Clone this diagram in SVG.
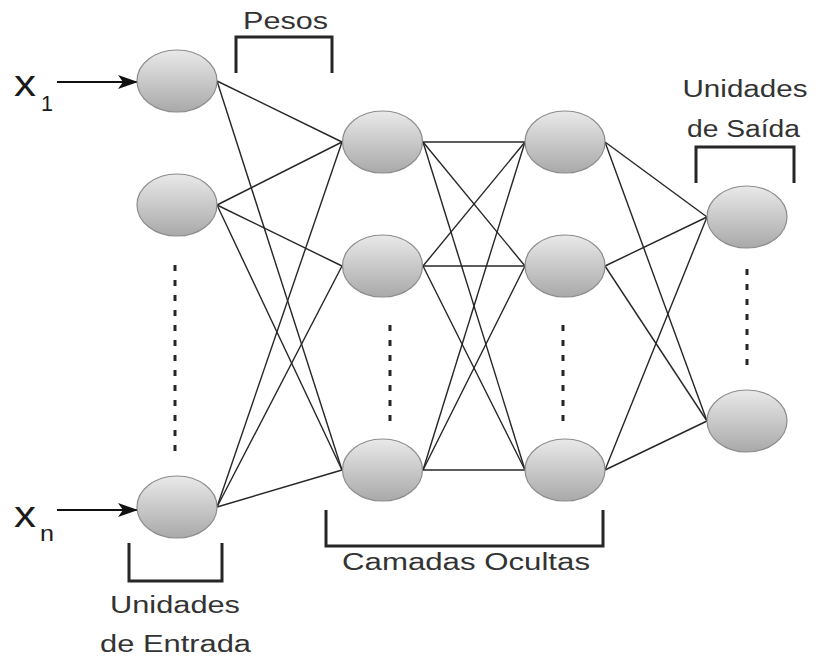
<svg xmlns="http://www.w3.org/2000/svg" width="816" height="659" viewBox="0 0 816 659">
  <style>
    .node { fill: url(#nodeFill); stroke: #8c8c8c; stroke-width: 1.2; }
    .edge { stroke: #262626; stroke-width: 1.4; fill: none; }
    .dots { stroke: #262626; stroke-width: 3; stroke-dasharray: 6 9; fill: none; }
    .bracket { stroke: #262626; stroke-width: 3; fill: none; }
    .input { stroke: #111; stroke-width: 2.2; fill: none; marker-end: url(#arrow); }
    .label { font-family: "Liberation Sans", Arial, sans-serif; font-size: 23px; fill: #333; text-anchor: middle; }
    .var { font-family: "Liberation Sans", Arial, sans-serif; fill: #1a1a1a; }
  </style>
  <defs>
    <linearGradient id="nodeFill" x1="0" y1="0" x2="0" y2="1">
      <stop offset="0" stop-color="#e9e9e9"/>
      <stop offset="1" stop-color="#a9a9a9"/>
    </linearGradient>
    <marker id="arrow" viewBox="0 0 20 14" refX="19" refY="7" markerWidth="20" markerHeight="14" markerUnits="userSpaceOnUse" orient="auto">
      <path d="M0,0 L20,7 L0,14 L5,7 Z" fill="#111"/>
    </marker>
  </defs>

  <rect width="816" height="659" fill="#fff"/>

  <!-- weighted connections between layers -->
  <g id="connectors">
    <!-- input -> hidden 1 -->
    <line class="edge" x1="217" y1="81" x2="342" y2="142"/>
    <line class="edge" x1="217" y1="81" x2="342" y2="470"/>
    <line class="edge" x1="217" y1="205" x2="342" y2="142"/>
    <line class="edge" x1="217" y1="205" x2="342" y2="266"/>
    <line class="edge" x1="217" y1="205" x2="342" y2="470"/>
    <line class="edge" x1="217" y1="507" x2="342" y2="142"/>
    <line class="edge" x1="217" y1="507" x2="342" y2="266"/>
    <line class="edge" x1="217" y1="507" x2="342" y2="470"/>
    <!-- hidden 1 -> hidden 2 -->
    <line class="edge" x1="423" y1="142" x2="525" y2="142"/>
    <line class="edge" x1="423" y1="142" x2="525" y2="266"/>
    <line class="edge" x1="423" y1="142" x2="525" y2="470"/>
    <line class="edge" x1="423" y1="266" x2="525" y2="142"/>
    <line class="edge" x1="423" y1="266" x2="525" y2="266"/>
    <line class="edge" x1="423" y1="266" x2="525" y2="470"/>
    <line class="edge" x1="423" y1="470" x2="525" y2="142"/>
    <line class="edge" x1="423" y1="470" x2="525" y2="266"/>
    <line class="edge" x1="423" y1="470" x2="525" y2="470"/>
    <!-- hidden 2 -> output -->
    <line class="edge" x1="605" y1="142" x2="707" y2="217"/>
    <line class="edge" x1="605" y1="142" x2="707" y2="421"/>
    <line class="edge" x1="605" y1="266" x2="707" y2="217"/>
    <line class="edge" x1="605" y1="266" x2="707" y2="421"/>
    <line class="edge" x1="605" y1="470" x2="707" y2="217"/>
    <line class="edge" x1="605" y1="470" x2="707" y2="421"/>
    <!-- inputs -->
    <line class="input" x1="57" y1="82" x2="137" y2="82"/>
    <line class="input" x1="57" y1="510" x2="137" y2="510"/>
  </g>

  <!-- input units -->
  <g id="in1"><ellipse class="node" cx="177" cy="81" rx="40" ry="31"/></g>
  <g id="in2"><ellipse class="node" cx="177" cy="205" rx="40" ry="31"/></g>
  <g id="inN"><ellipse class="node" cx="177" cy="507" rx="40" ry="31"/></g>

  <!-- hidden layer 1 -->
  <g id="h1a"><ellipse class="node" cx="382.5" cy="142" rx="40" ry="31"/></g>
  <g id="h1b"><ellipse class="node" cx="382.5" cy="266" rx="40" ry="31"/></g>
  <g id="h1c"><ellipse class="node" cx="382.5" cy="470" rx="40" ry="31"/></g>

  <!-- hidden layer 2 -->
  <g id="h2a"><ellipse class="node" cx="565" cy="142" rx="40" ry="31"/></g>
  <g id="h2b"><ellipse class="node" cx="565" cy="266" rx="40" ry="31"/></g>
  <g id="h2c"><ellipse class="node" cx="565" cy="470" rx="40" ry="31"/></g>

  <!-- output units -->
  <g id="out1"><ellipse class="node" cx="747" cy="217" rx="40" ry="31"/></g>
  <g id="out2"><ellipse class="node" cx="747" cy="421" rx="40" ry="31"/></g>

  <!-- ellipsis marks for omitted units -->
  <g id="ellipses">
    <line class="dots" x1="175" y1="265" x2="175" y2="453"/>
    <line class="dots" x1="390" y1="325" x2="390" y2="422"/>
    <line class="dots" x1="563" y1="325" x2="563" y2="422"/>
    <line class="dots" x1="747" y1="266" x2="747" y2="373" stroke-dashoffset="12"/>
  </g>

  <!-- brackets -->
  <g id="brackets">
    <path class="bracket" d="M236,73 V37 H332 V73"/>
    <path class="bracket" d="M129,543 V581 H222 V543"/>
    <path class="bracket" d="M326,510 V546 H603 V510"/>
    <path class="bracket" d="M696,183 V147 H794 V183"/>
  </g>

  <!-- labels -->
  <g id="labels">
    <text class="label" x="285.5" y="29" textLength="85" lengthAdjust="spacingAndGlyphs">Pesos</text>
    <text class="label" x="175" y="613" textLength="130" lengthAdjust="spacingAndGlyphs">Unidades</text>
    <text class="label" x="175.5" y="652" textLength="151" lengthAdjust="spacingAndGlyphs">de Entrada</text>
    <text class="label" x="466" y="570" textLength="248" lengthAdjust="spacingAndGlyphs">Camadas Ocultas</text>
    <text class="label" x="745" y="97" textLength="125" lengthAdjust="spacingAndGlyphs">Unidades</text>
    <text class="label" x="743.5" y="137" textLength="113" lengthAdjust="spacingAndGlyphs">de Saída</text>
  </g>

  <!-- input variables -->
  <g id="vars">
    <text class="var" x="14" y="96" font-size="36" textLength="22" lengthAdjust="spacingAndGlyphs">x</text>
    <text class="var" x="41" y="111" font-size="22" textLength="12" lengthAdjust="spacingAndGlyphs">1</text>
    <text class="var" x="14" y="527" font-size="36" textLength="22" lengthAdjust="spacingAndGlyphs">x</text>
    <text class="var" x="40" y="541" font-size="22" textLength="14" lengthAdjust="spacingAndGlyphs">n</text>
  </g>
</svg>
